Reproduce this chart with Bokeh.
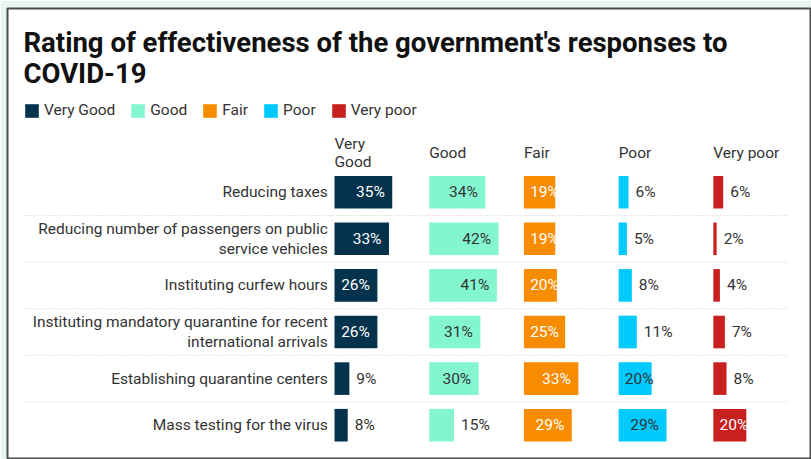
from bokeh.plotting import figure
from bokeh.models import ColumnDataSource, Range1d, Legend, LegendItem, Label
from bokeh.core.properties import value
from bokeh.embed import file_html
from bokeh.resources import INLINE

# --- data -------------------------------------------------------------
measures = [
    "Reducing taxes",
    "Reducing number of passengers on public\nservice vehicles",
    "Instituting curfew hours",
    "Instituting mandatory quarantine for recent\ninternational arrivals",
    "Establishing quarantine centers",
    "Mass testing for the virus",
]
ratings = ["Very Good", "Good", "Fair", "Poor", "Very poor"]
column_headers = ["Very\nGood", "Good", "Fair", "Poor", "Very poor"]

very_good = [35, 33, 26, 26, 9, 8]
good = [34, 42, 41, 31, 30, 15]
fair = [19, 19, 20, 25, 33, 29]
poor = [6, 5, 8, 11, 20, 29]
very_poor = [6, 2, 4, 7, 8, 20]

series = [very_good, good, fair, poor, very_poor]

# --- styling ----------------------------------------------------------
bar_colors = ["#05324d", "#83f5cf", "#f88c00", "#00c9fe", "#c81f1f"]
inside_text_colors = ["#ffffff", "#333333", "#ffffff", "#333333", "#ffffff"]
TEXT_COLOR = "#333333"
FONT = "Roboto"
FONT_SIZE = "15.5px"

W, H = 811, 459
X_START, X_END = -198.2, 289.1       # percentage units across the frame
Y_BOTTOM, Y_TOP = 5.736, -3.942      # row units, first row on top
COL_STEP = 57.4                      # horizontal offset between rating columns
BAR_HEIGHT = 0.70
FRAME_W = W - 7
UNIT_PX = FRAME_W / (X_END - X_START)   # pixels per percentage unit

p = figure(
    width=W, height=H,
    x_range=Range1d(X_START, X_END), y_range=Range1d(Y_BOTTOM, Y_TOP),
    x_axis_type=None, y_axis_type=None,
    output_backend="svg", toolbar_location=None,
    min_border_left=7, min_border_top=8, min_border_right=0, min_border_bottom=0,
    background_fill_color="white", border_fill_color="#e8f5ef",
    outline_line_color="#4d4d4d", outline_line_width=2,
)
p.xgrid.visible = False
p.ygrid.visible = False

rows = list(range(len(measures)))

# dotted separators between rows
sep = ColumnDataSource(dict(
    x0=[-187.9] * (len(rows) - 1), x1=[274.4] * (len(rows) - 1),
    y=[r + 0.5 for r in rows[:-1]],
))
p.segment(x0="x0", x1="x1", y0="y", y1="y", source=sep,
          line_color="#cccccc", line_width=1, line_dash="1 2")

# row labels
p.text(x=-4.06, y=rows, text=measures, text_align="right", text_baseline="middle",
       text_font=value(FONT), text_font_size=FONT_SIZE, text_color=TEXT_COLOR,
       text_line_height=1.08)

# column headers
p.text(x=[i * COL_STEP for i in range(len(ratings))], y=[-0.84] * len(ratings),
       text=column_headers, text_align="left", text_baseline="middle",
       text_font=value(FONT), text_font_size=FONT_SIZE, text_color=TEXT_COLOR,
       text_line_height=1.02)

legend_items = []
PAD_END = 7.5 / UNIT_PX     # gap between label and bar end (inside)
PAD_START = 6.5 / UNIT_PX   # minimum gap from bar start (inside)
PAD_OUT = 7.0 / UNIT_PX     # gap after the bar (outside)


def label_width(s):
    # approximate Roboto advance widths of digits and the percent sign
    return (8.7 * (len(s) - 1) + 11.1) / UNIT_PX


for i, (name, vals) in enumerate(zip(ratings, series)):
    base = i * COL_STEP
    src = ColumnDataSource(dict(y=rows, left=[base] * len(vals),
                                right=[base + v for v in vals]))
    r = p.hbar(y="y", left="left", right="right", height=BAR_HEIGHT, source=src,
               fill_color=bar_colors[i], line_color=None)
    legend_items.append(LegendItem(label=name, renderers=[r]))

    in_x, in_y, in_t, out_x, out_y, out_t = [], [], [], [], [], []
    for row, v in zip(rows, vals):
        txt = f"{v}%"
        tw = label_width(txt)
        if v >= tw:
            in_x.append(base + max(v - PAD_END, PAD_START + tw))
            in_y.append(row)
            in_t.append(txt)
        else:
            out_x.append(base + v + PAD_OUT)
            out_y.append(row)
            out_t.append(txt)
    p.text(x=in_x, y=in_y, text=in_t, text_align="right", text_baseline="middle",
           text_font=value(FONT), text_font_size=FONT_SIZE,
           text_color=inside_text_colors[i])
    p.text(x=out_x, y=out_y, text=out_t, text_align="left", text_baseline="middle",
           text_font=value(FONT), text_font_size=FONT_SIZE, text_color=TEXT_COLOR)

legend = Legend(
    items=legend_items, location=(16, 340), orientation="horizontal",
    glyph_width=17, glyph_height=17, label_standoff=4, spacing=14,
    padding=0, margin=0, border_line_color=None, background_fill_alpha=0,
    label_text_font=FONT, label_text_font_size=FONT_SIZE, label_text_color=TEXT_COLOR,
    label_height=17,
)
p.add_layout(legend)

for txt, y in [("Rating of effectiveness of the government's responses to", 417),
               ("COVID-19", 386.3)]:
    p.add_layout(Label(x=16, y=y, x_units="screen", y_units="screen", text=txt,
                       text_font=FONT, text_font_style="bold", text_font_size="27.5px",
                       text_color="#111111", text_baseline="alphabetic"))

open("out.html", "w").write(file_html(p, INLINE))
